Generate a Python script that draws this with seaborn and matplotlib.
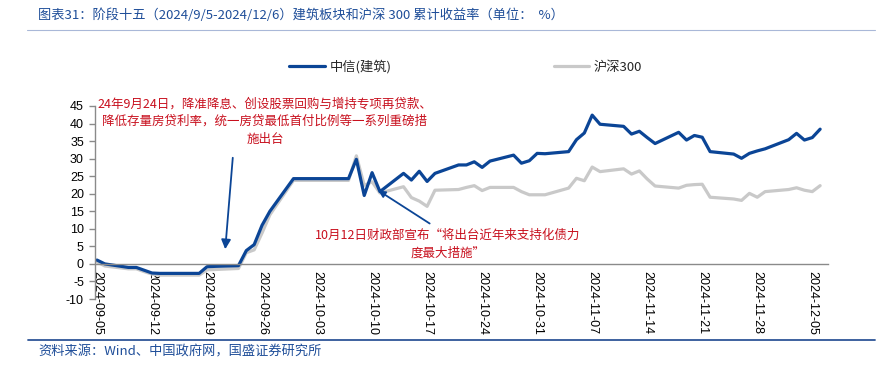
import matplotlib
matplotlib.use("Agg")
import matplotlib.pyplot as plt
from matplotlib.lines import Line2D
import seaborn as sns
import pandas as pd

sns.set_theme(style="white")
plt.rcParams['font.family'] = ['Noto Sans CJK SC', 'DejaVu Sans']
plt.rcParams['axes.unicode_minus'] = False

# ---------------- data ----------------
dates = ["2024-09-05", "2024-09-06", "2024-09-09", "2024-09-10", "2024-09-11", "2024-09-12",
         "2024-09-13", "2024-09-18", "2024-09-19", "2024-09-20", "2024-09-23", "2024-09-24",
         "2024-09-25", "2024-09-26", "2024-09-27", "2024-09-30", "2024-10-07", "2024-10-08",
         "2024-10-09", "2024-10-10", "2024-10-11", "2024-10-14", "2024-10-15", "2024-10-16",
         "2024-10-17", "2024-10-18", "2024-10-21", "2024-10-22", "2024-10-23", "2024-10-24",
         "2024-10-25", "2024-10-28", "2024-10-29", "2024-10-30", "2024-10-31", "2024-11-01",
         "2024-11-04", "2024-11-05", "2024-11-06", "2024-11-07", "2024-11-08", "2024-11-11",
         "2024-11-12", "2024-11-13", "2024-11-14", "2024-11-15", "2024-11-18", "2024-11-19",
         "2024-11-20", "2024-11-21", "2024-11-22", "2024-11-25", "2024-11-26", "2024-11-27",
         "2024-11-28", "2024-11-29", "2024-12-02", "2024-12-03", "2024-12-04", "2024-12-05",
         "2024-12-06"]

construction = [1.1, 0.0, -1.0, -1.0, -1.8, -2.6,
                -2.7, -2.7, -0.8, -0.7, -0.5, 3.8,
                5.5, 11.0, 15.0, 24.3, 24.3, 29.8,
                19.5, 26.0, 20.6, 25.8, 23.9, 26.4,
                23.5, 25.8, 28.2, 28.2, 29.1, 27.5,
                29.3, 31.0, 28.7, 29.4, 31.5, 31.4,
                32.0, 35.4, 37.3, 42.4, 39.8, 39.2,
                37.0, 37.8, 36.0, 34.3, 37.5, 35.3,
                36.6, 36.1, 32.0, 31.3, 30.1, 31.5,
                32.2, 32.8, 35.4, 37.2, 35.3, 36.0,
                38.4]

hs300 = [0.6, -0.6, -1.4, -1.4, -2.2, -2.9,
         -3.2, -3.2, -1.7, -1.6, -1.3, 3.2,
         4.0, 8.8, 14.0, 23.8, 23.8, 30.8,
         22.4, 23.4, 20.2, 22.0, 18.9, 17.9,
         16.4, 21.0, 21.2, 21.8, 22.3, 20.9,
         21.8, 21.8, 20.6, 19.7, 19.7, 19.7,
         21.6, 24.4, 23.7, 27.6, 26.3, 27.1,
         25.6, 26.5, 24.2, 22.2, 21.6, 22.4,
         22.6, 22.7, 19.0, 18.5, 18.1, 20.1,
         19.0, 20.6, 21.2, 21.7, 21.0, 20.6,
         22.3]

series_names = ["中信(建筑)", "沪深300"]
tick_dates = ["2024-09-05", "2024-09-12", "2024-09-19", "2024-09-26", "2024-10-03",
              "2024-10-10", "2024-10-17", "2024-10-24", "2024-10-31", "2024-11-07",
              "2024-11-14", "2024-11-21", "2024-11-28", "2024-12-05"]
y_ticks = [-10, -5, 0, 5, 10, 15, 20, 25, 30, 35, 40, 45]

title = "图表31：阶段十五（2024/9/5-2024/12/6）建筑板块和沪深 300 累计收益率（单位：  %）"
source = "资料来源：Wind、中国政府网，国盛证券研究所"
note1 = "24年9月24日，降准降息、创设股票回购与增持专项再贷款、\n降低存量房贷利率，统一房贷最低首付比例等一系列重磅措\n施出台"
note2 = "10月12日财政部宣布“将出台近年来支持化债力\n度最大措施”"

# ---------------- styling ----------------
BLUE = "#0B4596"
GRAY = "#C9C9C9"
RED = "#C8101E"
AXC = "#8A8A8A"
TBLUE = "#1F4E99"

df = pd.DataFrame({"date": pd.to_datetime(dates),
                   series_names[0]: construction,
                   series_names[1]: hs300})

W, H = 878, 370
fig = plt.figure(figsize=(W / 100, H / 100), dpi=100)
ax = fig.add_axes([95 / W, 1 - 299 / H, 733 / W, 193 / H])
ax.set_facecolor("white")

sns.lineplot(data=df, x="date", y=series_names[1], color=GRAY, linewidth=2.3, ax=ax)
sns.lineplot(data=df, x="date", y=series_names[0], color=BLUE, linewidth=2.3, ax=ax)

ax.set_xlim(pd.Timestamp("2024-09-05") - pd.Timedelta(hours=6), pd.Timestamp("2024-12-07"))
ax.set_ylim(-10, 45)
ax.set_yticks(y_ticks)
ax.set_yticklabels([str(v) for v in y_ticks])
ax.set_xticks(pd.to_datetime(tick_dates))
ax.set_xticklabels(tick_dates)
ax.set_xlabel("")
ax.set_ylabel("")
ax.grid(False)

for s in ["top", "right"]:
    ax.spines[s].set_visible(False)
ax.spines["bottom"].set_position(("data", 0))
for s in ["left", "bottom"]:
    ax.spines[s].set_color(AXC)
    ax.spines[s].set_linewidth(1.0)

ax.tick_params(axis="x", direction="in", length=4, width=1, color=AXC, pad=5,
               labelsize=9, labelrotation=-90, labelcolor="black")
ax.tick_params(axis="y", direction="out", length=4, width=1, color=AXC, pad=4,
               labelsize=9, labelcolor="black", left=True)
for lab in ax.get_xticklabels() + ax.get_yticklabels():
    lab.set_fontfamily(["Liberation Sans", "DejaVu Sans"])
for lab in ax.get_xticklabels():
    lab.set_va("top")
    lab.set_ha("center")

# legend
handles = [Line2D([0], [0], color=BLUE, lw=2.3), Line2D([0], [0], color=GRAY, lw=2.3)]
fig.legend(handles, series_names, loc="center left", bbox_to_anchor=(289 / W, 1 - 67 / H),
           ncol=2, frameon=False, handlelength=2.7, handletextpad=0.35,
           columnspacing=12.3, fontsize=9.5, borderpad=0, borderaxespad=0)

# annotations
ax.annotate("", xy=(225, H - 252), xytext=(233, H - 155),
            xycoords="figure pixels", textcoords="figure pixels",
            arrowprops=dict(arrowstyle="-|>", color=BLUE, lw=1.3, mutation_scale=14))
ax.annotate("", xy=(376, H - 189), xytext=(432, H - 225),
            xycoords="figure pixels", textcoords="figure pixels",
            arrowprops=dict(arrowstyle="-|>", color=BLUE, lw=1.3, mutation_scale=10))

fig.text(265 / W, 1 - 121.5 / H, note1, ha="center", va="center", multialignment="center",
         color=RED, fontsize=9, linespacing=1.45)
fig.text(448 / W, 1 - 244 / H, note2, ha="center", va="center", multialignment="center",
         color=RED, fontsize=9, linespacing=1.45)

# title, rules and source
fig.text(38 / W, 1 - 15 / H, title, ha="left", va="center", color=TBLUE, fontsize=9.5)
fig.add_artist(Line2D([27 / W, 875 / W], [1 - 30 / H, 1 - 30 / H], color="#A9B8D8", lw=0.8))
fig.add_artist(Line2D([28 / W, 875 / W], [1 - 340 / H, 1 - 340 / H], color="#2E5597", lw=1.3))
fig.text(38 / W, 1 - 352 / H, source, ha="left", va="center", color=TBLUE, fontsize=9.5)

fig.savefig("out.png", dpi=100, facecolor="white")
